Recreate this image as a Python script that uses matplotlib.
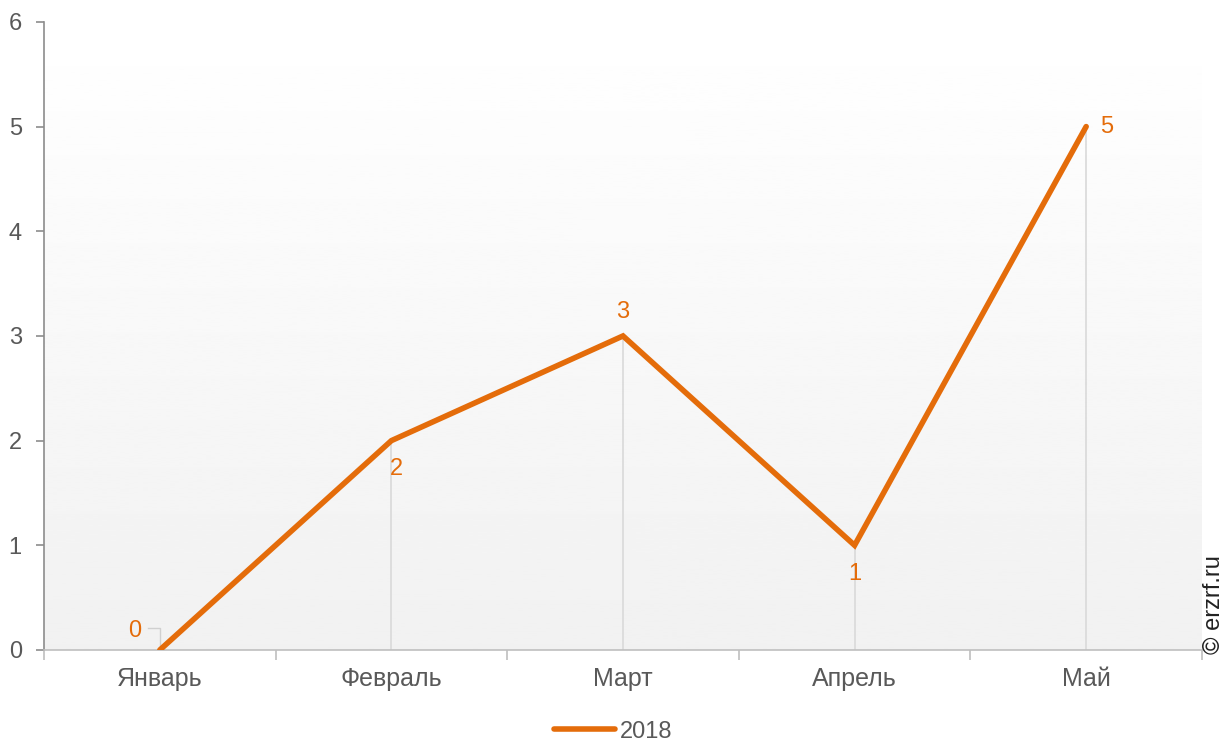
import numpy as np
import matplotlib.pyplot as plt
from matplotlib.lines import Line2D

months = ['Январь', 'Февраль', 'Март', 'Апрель', 'Май']
values_2018 = [0, 2, 3, 1, 5]
series_name = '2018'

orange = '#E46C0A'
grey_text = '#595959'

plt.rcParams['font.family'] = ['Liberation Sans', 'DejaVu Sans']

fig = plt.figure(figsize=(12.26, 7.42), dpi=100)
ax = fig.add_axes([0.0359, 0.124, 0.9445, 0.8465])

x = np.arange(len(months))

# soft vertical gradient behind the plot
grad = np.linspace(0.945, 1.0, 256).reshape(-1, 1)
ax.imshow(grad, extent=[-0.5, len(months) - 0.5, 0, 6], aspect='auto',
          cmap='gray', vmin=0, vmax=1, origin='lower', zorder=0)

# drop lines from each point to the axis
ax.vlines(x, 0, values_2018, color='#d9d9d9', lw=1.2, zorder=1)
ax.plot(x, values_2018, color=orange, lw=4, solid_capstyle='round',
        solid_joinstyle='miter', zorder=3)

# data labels
offsets = [(-0.08, 0.18, 'right'), (0.02, -0.27, 'center'), (0.0, 0.23, 'center'),
           (0.0, -0.27, 'center'), (0.06, 0.0, 'left')]
for xi, v, (dx, dy, ha) in zip(x, values_2018, offsets):
    ax.text(xi + dx, v + dy, str(v), color=orange, fontsize=17,
            ha=ha, va='center', zorder=4)
# small leader for the zero label
ax.plot([-0.05, 0.0, 0.0], [0.21, 0.21, 0.02], color='#d0d0d0', lw=1, zorder=2)

ax.set_xlim(-0.5, len(months) - 0.5)
ax.set_ylim(0, 6)
ax.set_yticks(range(7))
ax.set_xticks(x)
ax.set_xticklabels(months)
ax.set_xticks(np.arange(-0.5, len(months), 1), minor=True)
ax.tick_params(axis='x', which='major', length=0, pad=12, labelsize=18, labelcolor=grey_text)
ax.tick_params(axis='x', which='minor', length=7, direction='out', color='#bfbfbf', width=1.2)
ax.tick_params(axis='y', length=6, color='#8c8c8c', width=1.2, pad=10,
               labelsize=17, labelcolor=grey_text)

for side in ['top', 'right']:
    ax.spines[side].set_visible(False)
ax.spines['left'].set_color('#8c8c8c')
ax.spines['left'].set_linewidth(1.2)
ax.spines['bottom'].set_color('#bfbfbf')
ax.spines['bottom'].set_linewidth(1.2)

handle = Line2D([], [], color=orange, lw=4, solid_capstyle='round')
fig.legend([handle], [series_name], loc='center', bbox_to_anchor=(0.5, 0.014),
           frameon=False, fontsize=17, handlelength=2.6, handletextpad=0.2,
           labelcolor=grey_text)

fig.text(0.9905, 0.118, '© erzrf.ru', rotation=90, ha='center', va='bottom',
         fontsize=17, color='#222222')

fig.savefig('out.png', dpi=100)
